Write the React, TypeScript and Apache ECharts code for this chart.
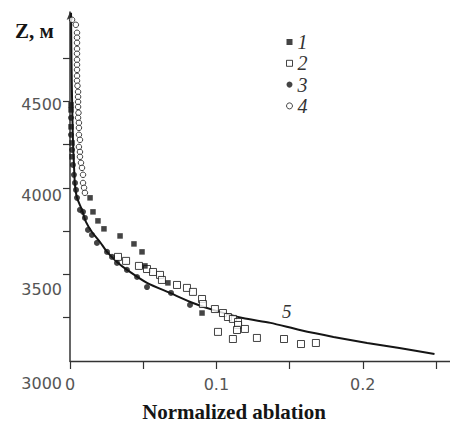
import React, { useEffect, useRef } from "react";
import * as echarts from "echarts";

// Series 1: filled squares [normalized ablation, Z m]
const series1: number[][] = [
  [0.0007, 4479], [0.0007, 4450], [0.0007, 4352], [0.0014, 4259], [0.0014, 4179],
  [0.0137, 3942], [0.0157, 3861], [0.0191, 3809], [0.0232, 3763], [0.0342, 3722],
  [0.0437, 3676], [0.0492, 3630], [0.0512, 3549], [0.0669, 3451], [0.0902, 3277],
];
// Series 2: open squares
const series2: number[][] = [
  [0.0328, 3601], [0.0383, 3578], [0.0471, 3549], [0.0526, 3531], [0.0567, 3514],
  [0.0615, 3497], [0.0628, 3468], [0.0731, 3439], [0.0799, 3422], [0.084, 3399],
  [0.0902, 3358], [0.0908, 3329], [0.099, 3300], [0.1045, 3277], [0.1079, 3254],
  [0.1113, 3243], [0.1148, 3225], [0.1148, 3208], [0.1141, 3179], [0.1195, 3185],
  [0.1011, 3168], [0.1113, 3127], [0.1277, 3133], [0.1462, 3127], [0.1578, 3098],
  [0.168, 3104],
];
// Series 3: filled circles
const series3: number[][] = [
  [0.0007, 4404], [0.0007, 4306], [0.0014, 4219], [0.002, 4132], [0.0027, 4075],
  [0.0034, 4028], [0.0041, 3988], [0.0048, 3942], [0.0068, 3872], [0.0089, 3861],
  [0.0102, 3826], [0.0123, 3757], [0.015, 3728], [0.0184, 3682], [0.0253, 3630],
  [0.0287, 3601], [0.0321, 3566], [0.0389, 3526], [0.0458, 3485], [0.0526, 3427],
  [0.069, 3393], [0.082, 3324],
];
// Series 4: open circles
const series4: number[][] = [
  [0.0014, 4970], [0.004, 4941], [0.0048, 4895], [0.0048, 4867], [0.0048, 4837],
  [0.0048, 4802], [0.0048, 4774], [0.0048, 4739], [0.0048, 4710], [0.0048, 4681],
  [0.0048, 4646], [0.0048, 4618], [0.0051, 4589], [0.0055, 4554], [0.0055, 4525],
  [0.0055, 4496], [0.0055, 4467], [0.0058, 4433], [0.0055, 4404], [0.0061, 4375],
  [0.0061, 4346], [0.0061, 4306], [0.0068, 4277], [0.0061, 4236], [0.0068, 4207],
  [0.0068, 4179], [0.0075, 4144], [0.0082, 4115], [0.0089, 4075], [0.0089, 4028],
  [0.0096, 4000], [0.0102, 3971],
];
// Curve 5
const curve5: number[][] = [
  [0.0007, 5010], [0.001, 4739], [0.0014, 4514], [0.002, 4277], [0.0027, 4132],
  [0.0034, 4017], [0.0048, 3942], [0.0082, 3872], [0.0109, 3803], [0.015, 3745],
  [0.0205, 3687], [0.0253, 3630], [0.0321, 3572], [0.039, 3526], [0.0526, 3451],
  [0.0683, 3393], [0.084, 3335], [0.0977, 3295], [0.118, 3248], [0.137, 3220],
  [0.157, 3179], [0.18, 3139], [0.203, 3104], [0.225, 3075], [0.249, 3040],
];
const curveLabelAt: number[] = [0.148, 3283];

const xTicks: number[] = [0, 0.05, 0.1, 0.15, 0.2, 0.25];
const xLabels: number[] = [0, 0.1, 0.2];
const yTicks: number[] = [3250, 3500, 3750, 4000, 4250, 4500, 4750];
const yLabels: number[] = [3000, 3500, 4000, 4500];

const INK = "#151515";
const LABEL = "#555";

export default function App() {
  const ref = useRef<HTMLDivElement>(null);
  useEffect(() => {
    if (!ref.current) return;
    const chart = echarts.init(ref.current, null, { renderer: "svg" });
    const lab = { fontFamily: "DejaVu Sans", fontSize: 16, color: LABEL };
    const yOffsetStyle: Record<number, string> = { 3000: "d", 3500: "c", 4000: "b", 4500: "a" };
    chart.setOption({
      animation: false,
      backgroundColor: "#fff",
      grid: { left: 70, right: 0, top: 12, bottom: 62, containLabel: false, outerBoundsMode: "none" },
      xAxis: {
        type: "value",
        min: 0,
        max: 0.2596,
        name: "Normalized ablation",
        nameLocation: "middle",
        nameGap: 40,
        nameTextStyle: {
          fontFamily: "Liberation Serif",
          fontWeight: "bold",
          fontSize: 21,
          color: INK,
          padding: [0, 52, 0, 0],
        },
        axisLine: { show: true, lineStyle: { color: "#333", width: 1.3 } },
        axisTick: { show: true, length: 8, customValues: xTicks, lineStyle: { color: "#333", width: 1.2 } },
        axisLabel: {
          customValues: xLabels,
          margin: 15,
          ...lab,
          formatter: (v: number) => (v === 0 ? "0" : String(v)),
        },
        splitLine: { show: false },
      },
      yAxis: {
        type: "value",
        min: 3000,
        max: 5015,
        axisLine: { show: true, symbol: ["none", "arrow"], symbolSize: [5, 8], lineStyle: { color: "#333", width: 1.5 } },
        axisTick: { show: true, length: 7, customValues: yTicks, lineStyle: { color: "#333", width: 1.2 } },
        axisLabel: {
          customValues: yLabels,
          margin: 8,
          ...lab,
          formatter: (v: number) => `{${yOffsetStyle[v] || "a"}|${v}}`,
          rich: {
            a: { ...lab, padding: [6, 0, 0, 0] },
            b: { ...lab, padding: [16, 0, 0, 0] },
            c: { ...lab, padding: [30, 0, 0, 0] },
            d: { ...lab, padding: [44, 0, 0, 0] },
          },
        },
        splitLine: { show: false },
      },
      legend: {
        orient: "vertical",
        left: 281,
        top: 27,
        itemWidth: 6,
        itemHeight: 6,
        itemGap: 1.3,
        textStyle: { fontFamily: "Liberation Serif", fontStyle: "italic", fontSize: 20, color: "#333" },
        data: [
          { name: "1", icon: "rect", itemStyle: { color: INK } },
          { name: "2", icon: "rect", itemStyle: { color: "#fff", borderColor: INK, borderWidth: 1 } },
          { name: "3", icon: "circle", itemStyle: { color: INK } },
          { name: "4", icon: "circle", itemStyle: { color: "#fff", borderColor: INK, borderWidth: 1 } },
        ],
      },
      graphic: [
        {
          type: "text",
          left: 15,
          top: 20,
          style: { text: "Z, м", font: "bold 21px 'Liberation Serif'", fill: INK },
        },
      ],
      series: [
        {
          name: "5",
          type: "line",
          data: curve5,
          showSymbol: false,
          symbol: "none",
          smooth: 0.25,
          lineStyle: { color: INK, width: 2 },
          z: 1,
          markPoint: {
            symbol: "circle",
            symbolSize: 0,
            data: [{ coord: curveLabelAt }],
            label: {
              show: true,
              formatter: "5",
              position: "inside",
              fontFamily: "Liberation Serif",
              fontStyle: "italic",
              fontSize: 19,
              color: "#333",
            },
          },
        },
        {
          name: "1",
          type: "scatter",
          data: series1,
          symbol: "rect",
          symbolSize: 5.5,
          itemStyle: { color: INK },
          z: 3,
        },
        {
          name: "2",
          type: "scatter",
          data: series2,
          symbol: "rect",
          symbolSize: 7,
          itemStyle: { color: "#fff", borderColor: INK, borderWidth: 1 },
          z: 2,
        },
        {
          name: "3",
          type: "scatter",
          data: series3,
          symbol: "circle",
          symbolSize: 6,
          itemStyle: { color: INK },
          z: 3,
        },
        {
          name: "4",
          type: "scatter",
          data: series4,
          symbol: "circle",
          symbolSize: 5.5,
          itemStyle: { color: "#fff", borderColor: INK, borderWidth: 1 },
          z: 2,
        },
      ],
    });
    return () => chart.dispose();
  }, []);
  return <div ref={ref} style={{ width: 450, height: 423, position: "absolute", left: 0, top: 0 }} />;
}
